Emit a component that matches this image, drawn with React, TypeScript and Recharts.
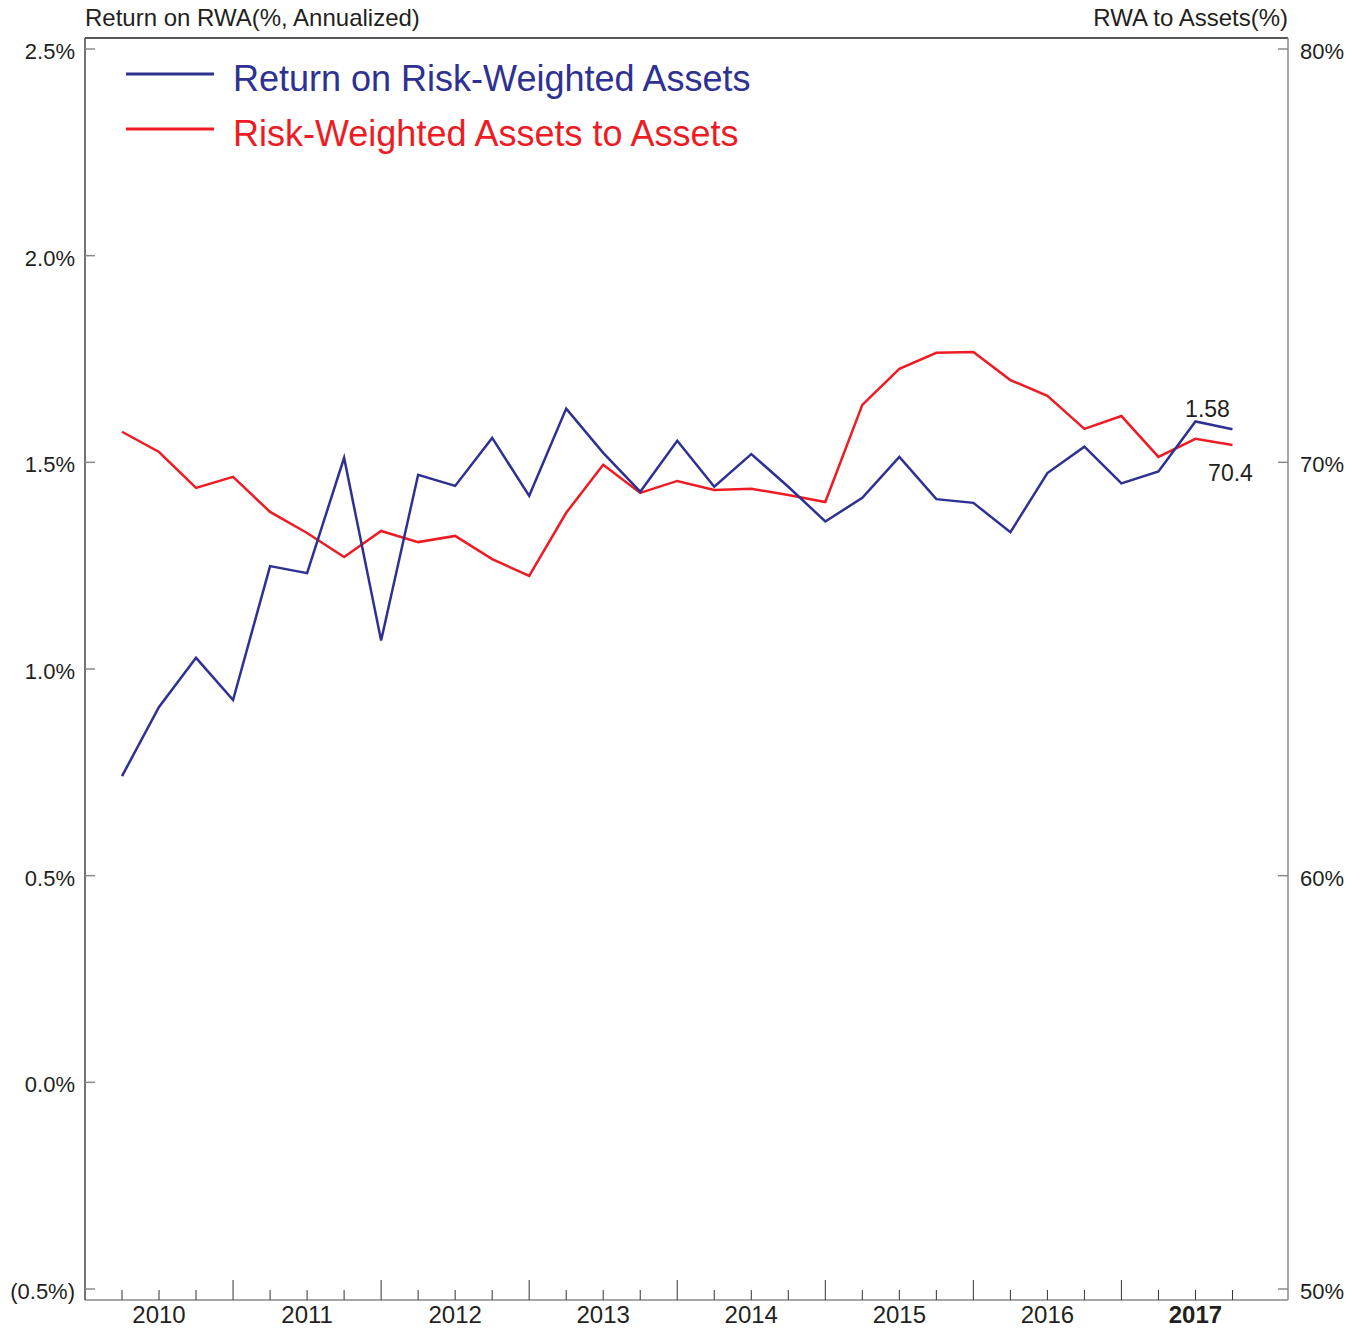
import React from "react";
import { ComposedChart, Line, XAxis, YAxis, Legend } from "recharts";

const quarters = [
  "2010Q1", "2010Q2", "2010Q3", "2010Q4",
  "2011Q1", "2011Q2", "2011Q3", "2011Q4",
  "2012Q1", "2012Q2", "2012Q3", "2012Q4",
  "2013Q1", "2013Q2", "2013Q3", "2013Q4",
  "2014Q1", "2014Q2", "2014Q3", "2014Q4",
  "2015Q1", "2015Q2", "2015Q3", "2015Q4",
  "2016Q1", "2016Q2", "2016Q3", "2016Q4",
  "2017Q1", "2017Q2", "2017Q3",
];

const returnOnRWA = [
  0.741, 0.908, 1.027, 0.925, 1.249, 1.232, 1.511, 1.069,
  1.47, 1.443, 1.559, 1.419, 1.63, 1.523, 1.429, 1.552,
  1.441, 1.52, 1.441, 1.357, 1.414, 1.513, 1.411, 1.402,
  1.331, 1.474, 1.538, 1.449, 1.478, 1.599, 1.58,
];

const rwaToAssets = [
  70.74, 70.25, 69.38, 69.65, 68.8, 68.29, 67.71, 68.34,
  68.07, 68.22, 67.66, 67.25, 68.78, 69.94, 69.26, 69.55,
  69.33, 69.36, 69.21, 69.04, 71.39, 72.26, 72.65, 72.67,
  71.99, 71.61, 70.81, 71.12, 70.13, 70.57, 70.42,
];

const years = ["2010", "2011", "2012", "2013", "2014", "2015", "2016", "2017"];
const leftTicks = [-0.5, 0, 0.5, 1, 1.5, 2, 2.5];
const rightTicks = [50, 60, 70, 80];
const xTicks = quarters.map((_, i) => i + 1);

const data = quarters.map((q, i) => ({
  q,
  idx: i + 1,
  ret: returnOnRWA[i],
  rwa: rwaToAssets[i],
}));

const BLUE = "#2E3192";
const RED = "#ED1C24";
const TEXT = "#231F20";
const AXIS = "#8a8a8a";
const FONT = "'Liberation Sans', Arial, Helvetica, sans-serif";

const fmtLeft = (v: number) =>
  v < 0 ? `(${Math.abs(v).toFixed(1)}%)` : `${v.toFixed(1)}%`;

const LeftTick = (props: any) => {
  const { x, y, payload } = props;
  return (
    <g>
      <line x1={x} x2={x + 10} y1={y} y2={y} stroke={AXIS} strokeWidth={1.5} />
      <text x={x - 10} y={y} dy="0.45em" textAnchor="end" fontSize={22} fill={TEXT} fontFamily={FONT}>
        {fmtLeft(payload.value)}
      </text>
    </g>
  );
};

const RightTick = (props: any) => {
  const { x, y, payload } = props;
  return (
    <g>
      <line x1={x - 10} x2={x} y1={y} y2={y} stroke={AXIS} strokeWidth={1.5} />
      <text x={x + 12} y={y} dy="0.45em" textAnchor="start" fontSize={22} fill={TEXT} fontFamily={FONT}>
        {`${payload.value}%`}
      </text>
    </g>
  );
};

const BottomTick = (props: any) => {
  const { x, y, payload } = props;
  const k = payload.value as number;
  const len = k % 4 === 0 ? 20 : 10;
  const isLabel = k % 4 === 2;
  const year = isLabel ? years[(k - 2) / 4] : "";
  return (
    <g>
      <line x1={x} x2={x} y1={y} y2={y - len} stroke="#333" strokeWidth={1} />
      {isLabel && (
        <text
          x={x}
          y={y + 23}
          textAnchor="middle"
          fontSize={24}
          fill={TEXT}
          fontFamily={FONT}
          fontWeight={year === "2017" ? "bold" : "normal"}
        >
          {year}
        </text>
      )}
    </g>
  );
};

const lastIdx = quarters.length - 1;

const RetLabel = (props: any) => {
  const { x, y, index, value } = props;
  if (index !== lastIdx) return null;
  return (
    <text x={x - 25} y={y - 12} textAnchor="middle" fontSize={23} fill={TEXT} fontFamily={FONT}>
      {Number(value).toFixed(2)}
    </text>
  );
};

const RwaLabel = (props: any) => {
  const { x, y, index, value } = props;
  if (index !== lastIdx) return null;
  return (
    <text x={x - 2} y={y + 36} textAnchor="middle" fontSize={23} fill={TEXT} fontFamily={FONT}>
      {Number(value).toFixed(1)}
    </text>
  );
};

const legendItems = [
  { label: "Return on Risk-Weighted Assets", color: BLUE },
  { label: "Risk-Weighted Assets to Assets", color: RED },
];

const LegendContent = () => (
  <div style={{ fontFamily: FONT }}>
    {legendItems.map((it) => (
      <div key={it.label} style={{ display: "flex", alignItems: "center", height: 55 }}>
        <svg width={88} height={20} style={{ marginRight: 19, marginTop: -10 }}>
          <line x1={0} x2={88} y1={10} y2={10} stroke={it.color} strokeWidth={3} />
        </svg>
        <span style={{ fontSize: 36, color: it.color, lineHeight: "55px", whiteSpace: "nowrap" }}>
          {it.label}
        </span>
      </div>
    ))}
  </div>
);

export default function App() {
  return (
    <div
      style={{
        position: "absolute",
        left: 0,
        top: 0,
        width: 1367,
        height: 1328,
        background: "#fff",
        fontFamily: FONT,
      }}
    >
      <div
        style={{
          position: "absolute",
          left: 85,
          top: 5,
          fontSize: 24,
          lineHeight: "26px",
          color: TEXT,
          whiteSpace: "nowrap",
        }}
      >
        Return on RWA(%, Annualized)
      </div>
      <div
        style={{
          position: "absolute",
          right: 1367 - 1288,
          top: 5,
          fontSize: 24,
          lineHeight: "26px",
          color: TEXT,
          whiteSpace: "nowrap",
        }}
      >
        RWA to Assets(%)
      </div>
      <ComposedChart
        width={1367}
        height={1328}
        data={data}
        margin={{ top: 37, right: 0, bottom: 0, left: 0 }}
      >
        <XAxis
          xAxisId="main"
          dataKey="idx"
          type="number"
          domain={[0, 32.5]}
          allowDataOverflow
          ticks={xTicks}
          interval={0}
          height={28}
          tickSize={0}
          tickMargin={0}
          tickLine={false}
          tick={<BottomTick />}
          axisLine={{ stroke: AXIS, strokeWidth: 1.5 }}
        />
        <XAxis
          xAxisId="top"
          orientation="top"
          dataKey="idx"
          type="number"
          domain={[0, 32.5]}
          allowDataOverflow
          height={1}
          tick={false}
          tickLine={false}
          axisLine={{ stroke: TEXT, strokeWidth: 1.5 }}
        />
        <YAxis
          yAxisId="left"
          orientation="left"
          type="number"
          domain={[-0.5266, 2.5266]}
          allowDataOverflow
          ticks={leftTicks}
          interval={0}
          width={85}
          tickSize={0}
          tickMargin={0}
          tickLine={false}
          tick={<LeftTick />}
          axisLine={{ stroke: "#444", strokeWidth: 1.5 }}
        />
        <YAxis
          yAxisId="right"
          orientation="right"
          type="number"
          domain={[49.734, 80.266]}
          allowDataOverflow
          ticks={rightTicks}
          interval={0}
          width={79}
          tickSize={0}
          tickMargin={0}
          tickLine={false}
          tick={<RightTick />}
          axisLine={{ stroke: AXIS, strokeWidth: 1.5 }}
        />
        <Legend
          layout="vertical"
          align="center"
          verticalAlign="middle"
          content={<LegendContent />}
          wrapperStyle={{ position: "absolute", left: 126, top: 51, width: 760 }}
        />
        <Line
          xAxisId="main"
          yAxisId="right"
          type="linear"
          dataKey="rwa"
          stroke={RED}
          strokeWidth={2.5}
          dot={false}
          activeDot={false}
          isAnimationActive={false}
          label={<RwaLabel />}
        />
        <Line
          xAxisId="main"
          yAxisId="left"
          type="linear"
          dataKey="ret"
          stroke={BLUE}
          strokeWidth={2.5}
          dot={false}
          activeDot={false}
          isAnimationActive={false}
          label={<RetLabel />}
        />
      </ComposedChart>
    </div>
  );
}
